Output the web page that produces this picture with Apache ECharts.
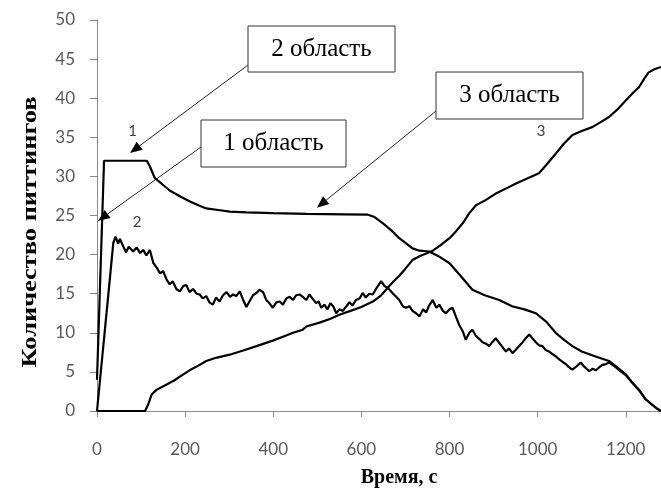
<!DOCTYPE html>
<html>
<head>
    <meta charset="utf-8">
    <script src="https://cdn.jsdelivr.net/npm/echarts@6/dist/echarts.min.js"></script>
    <style>
        html, body { margin: 0; padding: 0; background: #fff; }
        #chart { width: 661px; height: 490px; }
    </style>
</head>
<body>
    <div id="chart"></div>
    <script type="text/javascript">
        // кривая 1, 2, 3: [время, с ; количество]
        var curve1 = [
            [0,4],[16,32],[113,32],[120,31.3],[131,29.8],[148,29],[165,28.2],[190,27.4],[211,26.8],[230,26.3],
            [248,25.9],[275,25.7],[301,25.5],[340,25.4],[400,25.3],[475,25.2],[560,25.15],[615,25.1],[630,24.8],
            [649,24.0],[668,23.1],[686,22.1],[700,21.5],[716,20.8],[732,20.5],[754,20.4],[775,19.8],[800,18.9],
            [825,17.3],[852,15.5],[880,14.8],[913,14.2],[942,13.4],[970,13.0],[996,12.5],[1020,11.4],[1041,10.0],
            [1060,9.1],[1079,8.3],[1100,7.6],[1130,7.0],[1162,6.4],[1180,5.6],[1200,4.7],[1215,3.6],[1230,2.7],
            [1245,1.5],[1260,0.8],[1271,0.3],[1280,0]
        ];
        var curve2 = [
            [0,0],[4,0],[29,16.8],[37,21.5],[42,22.3],[48,21.4],[52,22.0],[60,21.0],[66,20.3],[72,21.0],[82,20.4],
            [90,20.9],[98,20.2],[105,20.6],[112,19.9],[120,20.6],[128,18.9],[136,18.3],[143,17.6],[150,17.9],
            [158,16.8],[165,16.2],[172,16.6],[180,15.6],[188,15.3],[196,16.0],[203,16.1],[210,15.2],[218,15.6],
            [226,15.0],[233,14.9],[240,14.4],[248,14.7],[255,13.9],[263,13.6],[270,14.5],[278,14.0],[286,14.8],
            [294,15.2],[302,14.6],[309,14.9],[316,14.7],[324,15.3],[331,14.3],[339,13.3],[347,14.1],[354,14.8],
            [362,15.1],[369,15.5],[377,15.2],[384,14.2],[391,13.8],[399,13.2],[407,13.9],[415,14.0],[422,13.6],
            [430,14.4],[437,14.6],[445,14.2],[452,14.8],[460,14.9],[467,14.6],[475,14.2],[482,14.9],[490,14.3],
            [497,13.8],[503,14.0],[509,13.2],[516,13.6],[523,13.0],[530,13.8],[537,13.3],[543,12.5],[550,13.0],
            [558,12.8],[566,13.4],[573,13.9],[580,13.5],[588,14.2],[596,14.4],[603,15.1],[610,14.5],[618,15.0],
            [626,14.9],[633,15.6],[640,16.2],[645,16.6],[652,16.0],[658,15.8],[664,15.5],[672,15.0],[679,14.6],
            [686,14.2],[694,13.4],[701,13.2],[709,13.4],[716,12.8],[724,12.5],[732,12.1],[740,13.0],[747,12.6],
            [754,13.5],[762,14.2],[770,13.2],[777,13.6],[785,12.8],[792,12.5],[800,13.0],[807,13.2],[815,12.0],
            [822,11.0],[830,10.2],[837,9.1],[845,10.0],[852,10.4],[860,9.6],[868,9.2],[875,8.8],[883,8.6],
            [890,8.3],[897,8.8],[905,9.3],[913,8.7],[920,8.2],[928,7.6],[935,8.0],[943,7.4],[950,7.8],[958,8.3],
            [966,8.8],[973,9.3],[981,9.8],[988,9.3],[996,8.8],[1003,8.4],[1011,8.3],[1018,7.8],[1026,7.6],
            [1033,7.3],[1041,7.0],[1049,6.6],[1056,6.3],[1064,6.0],[1071,5.6],[1079,5.3],[1086,5.6],[1092,5.9],
            [1098,6.2],[1105,5.7],[1111,5.4],[1117,5.1],[1125,5.4],[1132,5.2],[1140,5.6],[1147,5.9],[1155,6.0],
            [1162,6.2],[1166,6.3],[1175,5.7],[1190,5.0],[1200,4.6],[1215,3.6],[1230,2.7],[1245,1.5],[1260,0.8],
            [1271,0.3],[1280,0]
        ];
        var curve3 = [
            [0,0],[109,0],[116,0.8],[124,2.1],[135,2.7],[158,3.4],[175,3.9],[188,4.4],[210,5.2],[230,5.8],
            [248,6.4],[270,6.8],[301,7.2],[330,7.7],[362,8.3],[399,9.0],[422,9.5],[445,10.0],[467,10.4],[475,10.8],
            [505,11.3],[530,11.8],[550,12.3],[580,12.9],[600,13.3],[626,14.0],[645,14.8],[656,15.5],[670,16.4],
            [686,17.3],[700,18.2],[716,19.3],[732,19.8],[750,20.2],[762,20.5],[780,21.2],[800,22.1],[815,23.0],
            [830,24.0],[845,25.3],[860,26.3],[880,26.9],[905,27.8],[930,28.5],[951,29.1],[975,29.7],[1003,30.4],
            [1020,31.5],[1041,32.9],[1060,34.2],[1079,35.3],[1100,35.8],[1124,36.3],[1145,37.0],[1162,37.6],
            [1180,38.5],[1200,39.7],[1215,40.6],[1230,41.4],[1242,42.5],[1252,43.3],[1265,43.7],[1280,44.0]
        ];
        var xTicks = [0, 200, 400, 600, 800, 1000, 1200];

        // подписи кривых (в координатах данных)
        var curveLabels = ['1', '2', '3'];
        var curveLabelPos = [[81, 35.8], [91, 24.2], [1008, 35.8]];

        // выноски: текст, рамка [x, y, w, h] в пикселях, начало стрелки в пикселях, острие в данных
        var calloutText = ['2 область', '1 область', '3 область'];
        var calloutBox = [[248, 26, 147, 46], [201, 120, 145, 47], [436, 72, 147, 47]];
        var calloutFrom = [[248, 65], [201, 147], [436, 111]];
        var calloutTip = [[75, 33.0], [2, 24.3], [499, 26.0]];

        var yTitle = 'Количество питтингов';

        var seriesList = [curve1, curve2, curve3].map(function (d) {
            return {
                type: 'line',
                data: d,
                showSymbol: false,
                symbol: 'none',
                animation: false,
                lineStyle: { color: '#000', width: 2.2 }
            };
        });

        var option = {
            animation: false,
            grid: { left: 97, right: 0, top: 20, bottom: 79, outerBoundsMode: 'none' },
            xAxis: {
                type: 'value',
                min: 0,
                max: 1280,
                interval: 200,
                name: 'Время, с',
                nameLocation: 'middle',
                nameGap: 57,
                nameTextStyle: {
                    fontFamily: 'Liberation Serif', fontWeight: 'bold', fontSize: 20, color: '#000',
                    padding: [0, 0, 0, 40]
                },
                axisLine: { lineStyle: { color: '#8a8a8a', width: 1 } },
                axisTick: { show: true, length: 6, lineStyle: { color: '#8a8a8a' }, customValues: xTicks },
                axisLabel: {
                    customValues: xTicks,
                    formatter: function (v) { return String(v); },
                    margin: 30, fontFamily: 'Lato', fontSize: 17, color: '#595959'
                },
                splitLine: { show: false }
            },
            yAxis: {
                type: 'value',
                min: 0,
                max: 50,
                interval: 5,
                axisLine: { show: true, lineStyle: { color: '#8a8a8a', width: 1 } },
                axisTick: { show: true, length: 7, lineStyle: { color: '#8a8a8a' } },
                axisLabel: { margin: 22, fontFamily: 'Lato', fontSize: 17, color: '#595959' },
                splitLine: { show: false }
            },
            series: seriesList
        };

        var myChart = echarts.init(document.getElementById('chart'), null, { renderer: 'canvas' });
        myChart.setOption(option);

        function build_graphic() {
            var els = [];
            // подпись оси Y (вытянута вдоль оси, как в оригинале)
            els.push({
                type: 'text', silent: true,
                x: 30, y: 232, rotation: Math.PI / 2, scaleX: 1.2,
                style: {
                    text: yTitle, fill: '#000',
                    font: 'bold 22px "Liberation Serif"',
                    align: 'center', verticalAlign: 'middle'
                }
            });
            for (var i = 0; i < calloutText.length; i++) {
                var b = calloutBox[i];
                var p0 = calloutFrom[i];
                var p1 = myChart.convertToPixel({ gridIndex: 0 }, calloutTip[i]);
                var dx = p1[0] - p0[0], dy = p1[1] - p0[1];
                var len = Math.sqrt(dx * dx + dy * dy);
                var ux = dx / len, uy = dy / len;
                var L = 12, W = 5;
                var bx = p1[0] - ux * L, by = p1[1] - uy * L;
                els.push({
                    type: 'line', silent: true,
                    shape: { x1: p0[0], y1: p0[1], x2: bx, y2: by },
                    style: { stroke: '#222', lineWidth: 1 }
                });
                els.push({
                    type: 'polygon', silent: true,
                    shape: { points: [p1, [bx - uy * W, by + ux * W], [bx + uy * W, by - ux * W]] },
                    style: { fill: '#000' }
                });
                els.push({
                    type: 'rect', silent: true, z: 10,
                    shape: { x: b[0], y: b[1], width: b[2], height: b[3] },
                    style: { fill: '#fff', stroke: '#333', lineWidth: 1 }
                });
                els.push({
                    type: 'text', silent: true, z: 11,
                    x: b[0] + b[2] / 2, y: b[1] + b[3] / 2,
                    style: {
                        text: calloutText[i], fill: '#000',
                        font: '25px "Liberation Serif"',
                        align: 'center', verticalAlign: 'middle'
                    }
                });
            }
            for (var j = 0; j < curveLabels.length; j++) {
                var q = myChart.convertToPixel({ gridIndex: 0 }, curveLabelPos[j]);
                els.push({
                    type: 'text', silent: true, z: 11,
                    x: q[0], y: q[1],
                    style: {
                        text: curveLabels[j], fill: '#404040',
                        font: '15px Lato',
                        align: 'center', verticalAlign: 'middle'
                    }
                });
            }
            myChart.setOption({ graphic: els });
        }
        build_graphic();
    </script>
</body>
</html>
